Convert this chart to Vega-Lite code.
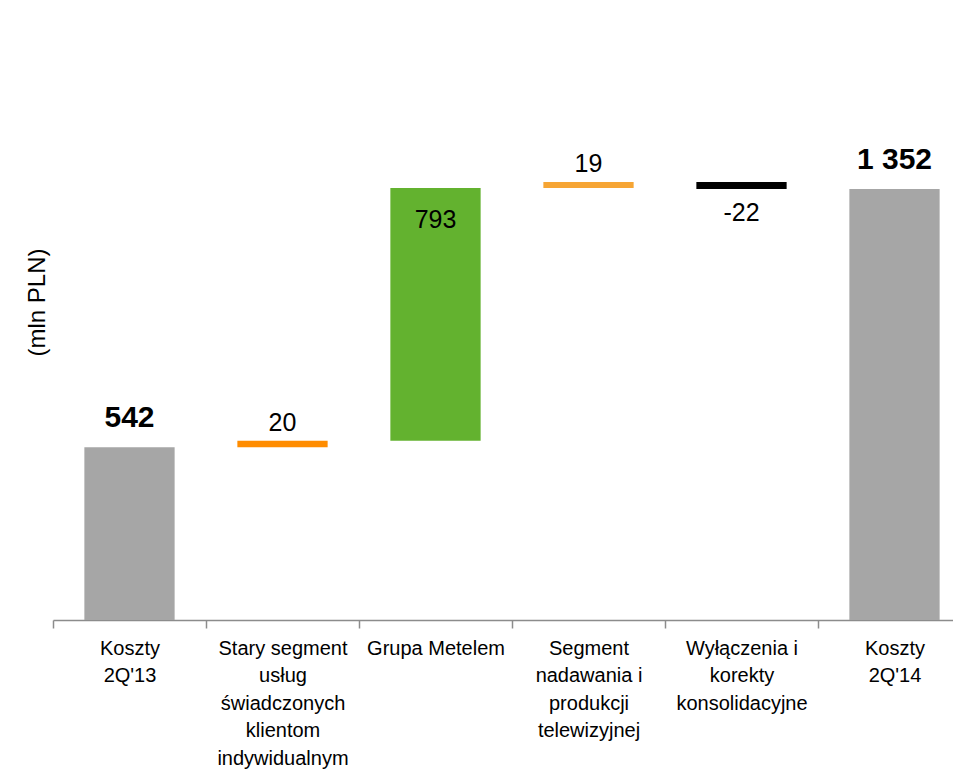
{
  "$schema": "https://vega.github.io/schema/vega-lite/v6.json",
  "autosize": "none",
  "padding": {"left": 53, "top": 0, "right": -18, "bottom": 155},
  "width": 918,
  "height": 620,
  "background": "white",
  "config": {"view": {"stroke": null}, "font": "Liberation Sans"},
  "data": {"values": [
    {"cat": "Koszty|2Q'13", "start": 0, "end": 542, "label": "542", "kind": "total"},
    {"cat": "Stary segment|usług|świadczonych|klientom|indywidualnym", "start": 542, "end": 562, "label": "20", "kind": "up"},
    {"cat": "Grupa Metelem", "start": 562, "end": 1355, "label": "793", "kind": "inside"},
    {"cat": "Segment|nadawania i|produkcji|telewizyjnej", "start": 1355, "end": 1374, "label": "19", "kind": "up"},
    {"cat": "Wyłączenia i|korekty|konsolidacyjne", "start": 1374, "end": 1352, "label": "-22", "kind": "down"},
    {"cat": "Koszty|2Q'14", "start": 0, "end": 1352, "label": "1 352", "kind": "total"}
  ]},
  "encoding": {
    "x": {"field": "cat", "type": "nominal", "sort": null,
      "scale": {"paddingInner": 0, "paddingOuter": 0},
      "axis": {"title": null, "labelAngle": 0, "labelExpr": "split(datum.label, '|')",
        "domainColor": "#8c8c8c", "domainWidth": 1.5, "tickColor": "#8c8c8c", "tickWidth": 1.5, "tickSize": 8,
        "tickBand": "extent", "labelFontSize": 20, "labelLineHeight": 27.5, "labelPadding": 10,
        "labelColor": "#000000", "labelLimit": 0, "labelFont": "Liberation Sans"}},
    "y": {"field": "end", "type": "quantitative", "scale": {"domain": [0, 1945], "nice": false, "zero": true},
      "axis": {"title": "(mln PLN)", "domain": false, "ticks": false, "labels": false, "grid": false,
        "titleFontSize": 24, "titleFontWeight": "normal", "titleColor": "#000000", "titleFont": "Liberation Sans",
        "titleX": -16, "titleY": 302, "titleAngle": -90, "titleAlign": "center", "titleBaseline": "middle"}}
  },
  "layer": [
    {"mark": {"type": "bar", "width": {"band": 0.59}},
     "encoding": {
       "y": {"field": "start", "type": "quantitative"},
       "y2": {"field": "end"},
       "color": {"field": "cat", "type": "nominal", "legend": null,
         "scale": {"domain": ["Koszty|2Q'13", "Stary segment|usług|świadczonych|klientom|indywidualnym", "Grupa Metelem", "Segment|nadawania i|produkcji|telewizyjnej", "Wyłączenia i|korekty|konsolidacyjne", "Koszty|2Q'14"],
                   "range": ["#a6a6a6", "#ff8c00", "#63b22f", "#f6a534", "#000000", "#a6a6a6"]}}
     }},
    {"transform": [{"filter": "datum.kind == 'total'"}],
     "mark": {"type": "text", "fontSize": 30, "fontWeight": "bold", "baseline": "alphabetic", "dy": -20, "color": "#000000"},
     "encoding": {"text": {"field": "label"}}},
    {"transform": [{"filter": "datum.kind == 'up'"}],
     "mark": {"type": "text", "fontSize": 25, "baseline": "alphabetic", "dy": -10, "color": "#000000"},
     "encoding": {"text": {"field": "label"}}},
    {"transform": [{"filter": "datum.kind == 'inside'"}],
     "mark": {"type": "text", "fontSize": 25, "baseline": "alphabetic", "dy": 40, "color": "#000000"},
     "encoding": {"text": {"field": "label"}}},
    {"transform": [{"filter": "datum.kind == 'down'"}],
     "mark": {"type": "text", "fontSize": 25, "baseline": "alphabetic", "dy": 32, "color": "#000000"},
     "encoding": {"text": {"field": "label"}}}
  ]
}
